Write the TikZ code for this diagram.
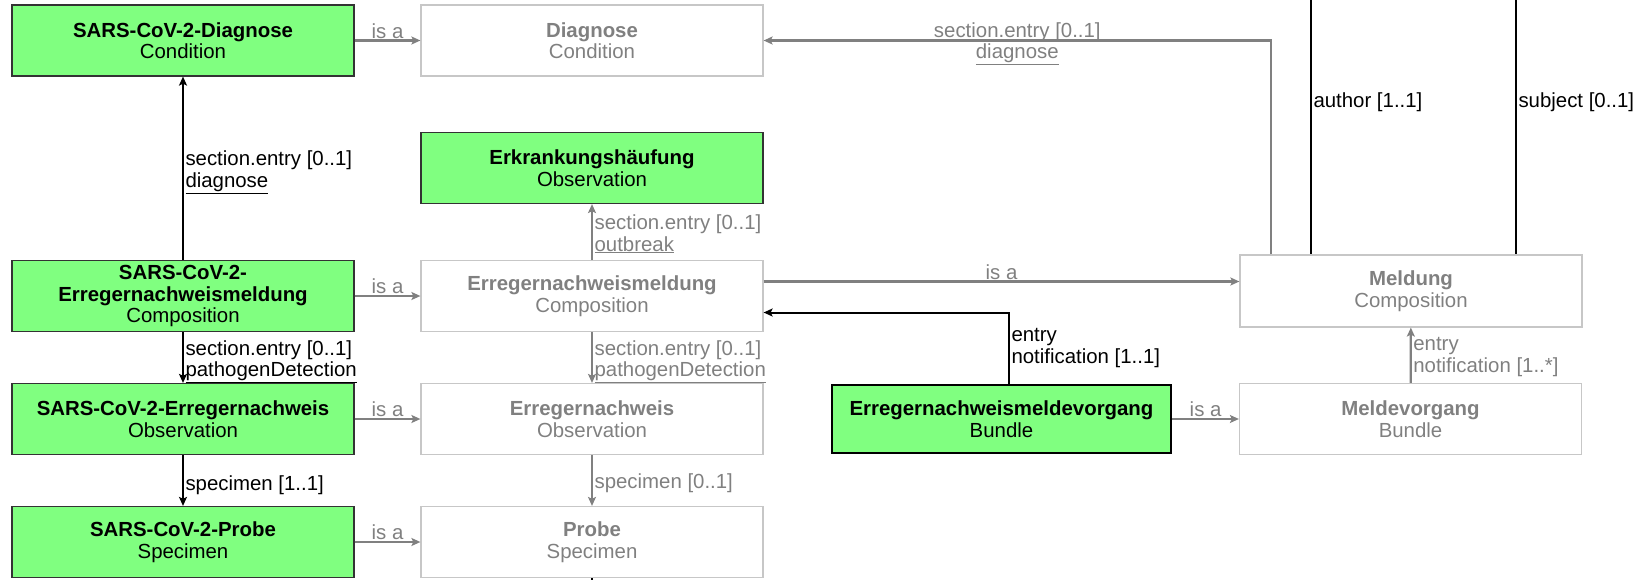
\documentclass[tikz,border=0pt]{standalone}
\usepackage{fontspec}
\setmainfont{Liberation Sans}
\usepackage{tikz}
\usetikzlibrary{arrows.meta,positioning}
\definecolor{profilegreen}{RGB}{128,255,128}

\begin{document}
\begin{tikzpicture}[
	x = 1pt, y = -1pt,
	node distance = 409pt,
	font = \fontsize{20.4}{21.5}\selectfont,
	profilenode/.style={rectangle, draw=black!80, line width=1.2pt, fill=profilegreen, minimum width=342pt, minimum height=71pt, align=center},
	basenode/.style={rectangle, draw=black!22, line width=1.2pt, text=black!50, minimum width=342pt, minimum height=71pt, align=center},
	bundlenode/.style={profilenode, draw=black, line width=2.6pt, minimum width=339pt, minimum height=68pt},
	isaline/.style={draw=black!50, line width=2.2pt, -{Stealth[length=9pt, width=8pt, inset=2pt]}},
	refline/.style={draw=black, line width=2pt, -{Stealth[length=9pt, width=8pt, inset=2pt]}},
	lbl/.style={right, inner sep=1.5pt, align=left},
	graylbl/.style={lbl, text=black!50},
	isalbl/.style={above, inner sep=1pt, text=black!50},
	]
	\useasboundingbox (0,0) rectangle (1634,579);
	%Nodes
	\node[profilenode]     (sdiag)  at (183,40.5)       {\textbf{SARS-CoV-2-Diagnose}\\Condition};
	\node[basenode]        (diag)   [right of = sdiag]  {\textbf{Diagnose}\\Condition};
	\node[profilenode]     (erk)    at (592,168)        {\textbf{Erkrankungshäufung}\\Observation};
	\node[profilenode]     (sem)    at (183,296)        {\textbf{SARS-CoV-2-}\\\textbf{Erregernachweismeldung}\\Composition};
	\node[basenode]        (em)     [right of = sem]    {\textbf{Erregernachweismeldung}\\Composition};
	\node[profilenode]     (sen)    at (183,419)        {\textbf{SARS-CoV-2-Erregernachweis}\\Observation};
	\node[basenode]        (en)     [right of = sen]    {\textbf{Erregernachweis}\\Observation};
	\node[profilenode]     (sprobe) at (183,542)        {\textbf{SARS-CoV-2-Probe}\\Specimen};
	\node[basenode]        (probe)  [right of = sprobe] {\textbf{Probe}\\Specimen};
	\node[bundlenode]      (emv)    at (1001.5,419)     {\textbf{Erregernachweismeldevorgang}\\Bundle};
	\node[basenode]        (mv)     [right of = emv]    {\textbf{Meldevorgang}\\Bundle};
	\node[basenode, minimum height=72pt] (meld) at (1411,291) {\textbf{Meldung}\\Composition};
	
	\coordinate (authortop)  at (1311,-20);
	\coordinate (subjecttop) at (1516,-20);
	\coordinate (emisa)      at ([yshift=14.5pt]em.east);
	\coordinate (probeout)   at (592,600);
	
	%Lines
	\draw[isaline] (sdiag) -- node[isalbl]{is a} (diag);
	\draw[isaline] (sem) -- node[isalbl]{is a} (em);
	\draw[isaline] (sen) -- node[isalbl]{is a} (en);
	\draw[isaline] (sprobe) -- node[isalbl]{is a} (probe);
	\draw[refline] (sem) -- node[lbl, yshift=-4pt]{section.entry [0..1]\\\underline{diagnose}} (sdiag);
	\draw[refline] (sem) -- node[lbl, yshift=-4pt]{section.entry [0..1]\\\underline{pathogenDetection}} (sen);
	\draw[refline] (sen) -- node[lbl, yshift=-5pt]{specimen [1..1]} (sprobe);
	\draw[isaline] (em) -- node[graylbl, yshift=-2pt]{section.entry [0..1]\\\underline{outbreak}} (erk);
	\draw[isaline] (em) -- node[graylbl, yshift=-4pt]{section.entry [0..1]\\\underline{pathogenDetection}} (en);
	\draw[isaline] (en) -- node[graylbl, yshift=-3pt]{specimen [0..1]} (probe);
	\draw[line width=2pt] (probe) -- (probeout);
	\draw[isaline] ([xshift=-140pt]meld.north) |- node[pos=0.75, yshift=-3pt, align=center, inner sep=0pt, text=black!50]{section.entry [0..1]\\\underline{diagnose}} (diag.east);
	\draw[isaline] (emisa) -- node[isalbl]{is a} (emisa -| meld.west);
	\draw[refline] ([xshift=7.5pt]emv.north) |- node[pos=0.25, lbl]{entry\\notification [1..1]} ([yshift=-16.5pt]em.east);
	\draw[isaline] (emv) -- node[isalbl]{is a} (mv);
	\draw[isaline] (mv) -- node[graylbl, yshift=-2pt]{entry\\notification [1..*]} (meld);
	\draw[line width=2pt] (authortop) -- node[pos=0.447, lbl]{author [1..1]} (authortop |- meld.north);
	\draw[line width=2pt] (subjecttop) -- node[pos=0.447, lbl]{subject [0..1]} (subjecttop |- meld.north);
\end{tikzpicture}
\end{document}
